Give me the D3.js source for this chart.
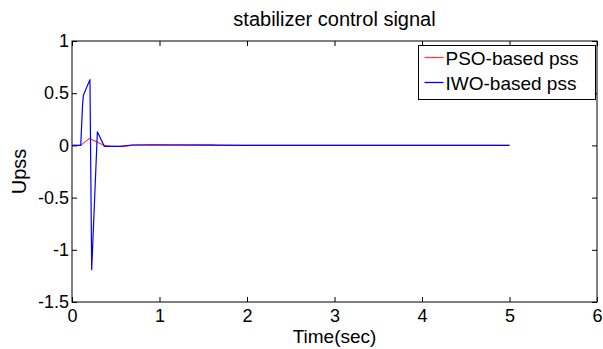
<!DOCTYPE html>
<html>
<head>
<meta charset="utf-8">
<script src="https://cdn.jsdelivr.net/npm/d3@7"></script>
<style>
  html, body { margin: 0; padding: 0; background: #fff; }
  svg { display: block; font-family: "Liberation Sans", Arial, sans-serif; }
</style>
</head>
<body>
<div id="chart"></div>
<script>
// time axis (sec) and control signal values
const timePSO = [0, 0.1, 0.2, 0.3, 0.37, 0.45, 0.6, 0.7, 0.9, 1.3, 1.6, 1.65, 5.0];
const valPSO  = [0, 0, 0.067, 0.025, 0, -0.01, -0.01, 0.003, 0.008, 0.005, 0.005, 0, 0];

const timeIWO = [0, 0.1, 0.12, 0.13, 0.205, 0.225, 0.29, 0.37, 0.55, 0.68, 1.0, 1.6, 2.0, 5.0];
const valIWO  = [0, 0, 0.38, 0.48, 0.63, -1.19, 0.13, -0.01, -0.01, 0.004, 0.004, 0.002, 0, 0];

const xTicks = [0, 1, 2, 3, 4, 5, 6];
const yTicks = [-1.5, -1, -0.5, 0, 0.5, 1];
const seriesNames = ["PSO-based pss", "IWO-based pss"];
const seriesColors = ["#ff4040", "#0000ff"];

const W = 603, H = 349;
const margin = { top: 41, right: 6, bottom: 47, left: 72 };
const innerW = W - margin.left - margin.right;
const innerH = H - margin.top - margin.bottom;

const svg = d3.select("#chart").append("svg")
  .attr("width", W)
  .attr("height", H);

svg.append("rect").attr("width", W).attr("height", H).attr("fill", "#fff");

const g = svg.append("g")
  .attr("transform", `translate(${margin.left},${margin.top})`);

const x = d3.scaleLinear().domain([0, 6]).range([0, innerW]);
const y = d3.scaleLinear().domain([-1.5, 1]).range([innerH, 0]);

const fmtY = d => String(d);

// ==== Axes (MATLAB style: ticks inward, box on) ====
const tickLen = 5;
function styleAxis(sel) {
  sel.select(".domain").remove();
  sel.selectAll("line").attr("stroke", "#000");
  sel.selectAll("text").style("font-size", "18px").attr("fill", "#000");
}

g.append("g")
  .attr("transform", `translate(0,${innerH})`)
  .call(d3.axisBottom(x).tickValues(xTicks).tickSize(-tickLen).tickPadding(7).tickFormat(d3.format("d")))
  .call(styleAxis);

g.append("g")
  .call(d3.axisTop(x).tickValues(xTicks).tickSize(-tickLen).tickFormat(""))
  .call(styleAxis);

g.append("g")
  .call(d3.axisLeft(y).tickValues(yTicks).tickSize(-tickLen).tickPadding(3).tickFormat(fmtY))
  .call(styleAxis);

g.append("g")
  .attr("transform", `translate(${innerW},0)`)
  .call(d3.axisRight(y).tickValues(yTicks).tickSize(-tickLen).tickFormat(""))
  .call(styleAxis);

// frame
g.append("rect")
  .attr("x", 0).attr("y", 0)
  .attr("width", innerW).attr("height", innerH)
  .attr("fill", "none")
  .attr("stroke", "#000")
  .attr("stroke-width", 1);

// ==== Lines ====
const line = d3.line()
  .x(d => x(d[0]))
  .y(d => y(d[1]));

const series = [
  { name: seriesNames[0], color: seriesColors[0], pts: d3.zip(timePSO, valPSO) },
  { name: seriesNames[1], color: seriesColors[1], pts: d3.zip(timeIWO, valIWO) }
];

g.selectAll(".sig")
  .data(series)
  .enter().append("path")
    .attr("class", "sig")
    .attr("fill", "none")
    .attr("stroke", d => d.color)
    .attr("stroke-width", 1.2)
    .attr("stroke-linejoin", "round")
    .attr("d", d => line(d.pts));

// ==== Labels ====
svg.append("text")
  .attr("x", margin.left + innerW / 2)
  .attr("y", 26)
  .attr("text-anchor", "middle")
  .style("font-size", "20px")
  .text("stabilizer control signal");

svg.append("text")
  .attr("x", margin.left + innerW / 2)
  .attr("y", 343)
  .attr("text-anchor", "middle")
  .style("font-size", "19px")
  .text("Time(sec)");

svg.append("text")
  .attr("transform", `translate(26,${margin.top + innerH / 2}) rotate(-90)`)
  .attr("text-anchor", "middle")
  .style("font-size", "20px")
  .text("Upss");

// ==== Legend ====
const legend = svg.append("g").attr("transform", "translate(418.5,45.5)");
legend.append("rect")
  .attr("width", 177).attr("height", 54)
  .attr("fill", "#fff")
  .attr("stroke", "#000");

const items = legend.selectAll(".legend-item")
  .data(series)
  .enter().append("g")
    .attr("class", "legend-item")
    .attr("transform", (_, i) => `translate(0,${12 + i * 25})`);

items.append("line")
  .attr("x1", 6).attr("x2", 25)
  .attr("y1", 0).attr("y2", 0)
  .attr("stroke", d => d.color)
  .attr("stroke-width", 1.3);

items.append("text")
  .attr("x", 27).attr("y", 7.5)
  .style("font-size", "19px")
  .text(d => d.name);
</script>
</body>
</html>
